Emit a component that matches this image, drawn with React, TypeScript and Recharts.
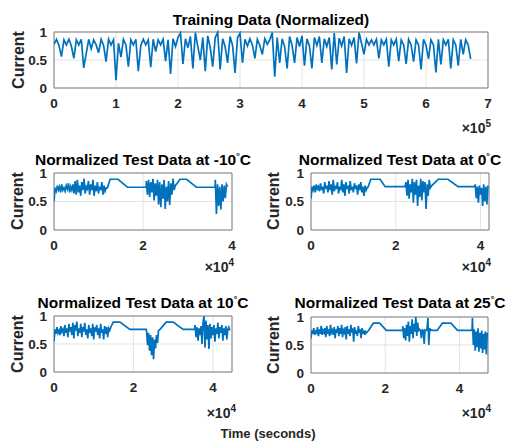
import React from 'react';
import { LineChart, Line, XAxis, YAxis, CartesianGrid, ReferenceArea } from 'recharts';

// ---------- Training data (normalized), sampled every 4000 s ----------
const trainStep = 4000;
const trainCurrent = [
  0.78, 0.87, 0.76, 0.56, 0.86, 0.77, 0.87, 0.75, 0.53, 0.86,
  0.77, 0.87, 0.36, 0.62, 0.87, 0.70, 0.86, 0.77, 0.63, 0.87,
  0.76, 0.47, 0.87, 0.77, 0.86, 0.14, 0.80, 0.55, 0.87, 0.77,
  0.38, 0.86, 0.77, 0.87, 0.30, 0.76, 0.87, 0.77, 0.86, 0.37,
  0.87, 0.65, 0.86, 0.77, 0.87, 0.48, 0.86, 0.25, 0.88, 0.74,
  0.90, 0.98, 0.43, 0.88, 0.72, 0.92, 0.35, 0.99, 0.74, 0.50,
  0.90, 0.30, 0.93, 0.72, 0.38, 0.90, 0.99, 0.33, 0.88, 0.74,
  0.45, 0.92, 0.76, 0.27, 0.90, 0.98, 0.45, 0.87, 0.75, 0.88,
  0.77, 0.53, 0.87, 0.76, 0.60, 0.88, 0.78, 0.86, 0.99, 0.20,
  0.90, 0.45, 0.88, 0.74, 0.35, 0.92, 0.76, 0.45, 0.90, 0.74,
  0.93, 0.40, 0.88, 0.75, 0.35, 0.90, 0.76, 0.92, 0.45, 0.88,
  0.74, 0.90, 0.33, 0.98, 0.42, 0.89, 0.75, 0.92, 0.27, 0.88,
  0.76, 0.90, 0.44, 0.99, 0.80, 0.60, 0.87, 0.77, 0.86, 0.77,
  0.87, 0.53, 0.86, 0.77, 0.87, 0.38, 0.86, 0.77, 0.87, 0.48,
  0.86, 0.77, 0.43, 0.87, 0.77, 0.47, 0.86, 0.77, 0.33, 0.87,
  0.76, 0.52, 0.86, 0.77, 0.28, 0.87, 0.42, 0.86, 0.77, 0.87,
  0.35, 0.86, 0.77, 0.40, 0.87, 0.60, 0.86, 0.77, 0.52,
];

// ---------- Test data: noisy segments sampled every 250 s, smooth parts as [time, value] knots ----------
const testStep = 250;

// -10 C
const m10Noise1 = [
  0.50, 0.74, 0.68, 0.78, 0.70, 0.76, 0.66, 0.80, 0.70, 0.74,
  0.68, 0.78, 0.72, 0.82, 0.66, 0.76, 0.70, 0.80, 0.64, 0.86,
  0.62, 0.88, 0.66, 0.78, 0.60, 0.84, 0.70, 0.90, 0.64, 0.76,
  0.72, 0.86, 0.62, 0.80, 0.70, 0.88, 0.60, 0.78, 0.68, 0.84,
  0.64, 0.76, 0.70, 0.84, 0.62, 0.78, 0.68, 0.74,
];
const m10Knots1 = [[12000, 0.74], [12600, 0.89], [14400, 0.89], [16500, 0.75], [20700, 0.75]];
const m10Noise2 = [
  0.86, 0.62, 0.88, 0.58, 0.84, 0.66, 0.90, 0.52, 0.82, 0.60,
  0.88, 0.45, 0.84, 0.40, 0.80, 0.55, 0.88, 0.37, 0.76, 0.50,
  0.86, 0.44, 0.82, 0.62, 0.90, 0.70, 0.78,
];
const m10Knots2 = [[27500, 0.80], [28300, 0.89], [29800, 0.89], [32000, 0.75], [36200, 0.75]];
const m10Noise3 = [0.88, 0.28, 0.80, 0.42, 0.76, 0.36, 0.80, 0.50, 0.78, 0.56, 0.80, 0.76];

// 0 C
const z0Noise1 = [
  0.55, 0.76, 0.70, 0.78, 0.66, 0.80, 0.72, 0.76, 0.68, 0.82,
  0.70, 0.76, 0.64, 0.84, 0.72, 0.78, 0.66, 0.86, 0.70, 0.80,
  0.62, 0.88, 0.68, 0.78, 0.72, 0.84, 0.64, 0.76, 0.70, 0.88,
  0.66, 0.80, 0.60, 0.84, 0.72, 0.78, 0.64, 0.86, 0.70, 0.76,
  0.66, 0.82, 0.72, 0.78, 0.62, 0.80, 0.70, 0.84, 0.66, 0.76,
  0.60, 0.78, 0.70, 0.74,
];
const z0Knots1 = [[13500, 0.76], [14100, 0.89], [16300, 0.89], [17500, 0.76], [22200, 0.76]];
const z0Noise2 = [
  0.84, 0.60, 0.88, 0.55, 0.80, 0.66, 0.90, 0.48, 0.84, 0.62,
  0.88, 0.42, 0.78, 0.58, 0.90, 0.52, 0.86, 0.66, 0.84, 0.37,
  0.80, 0.60, 0.88, 0.74,
];
const z0Knots2 = [[28500, 0.78], [30000, 0.89], [32300, 0.89], [34700, 0.76], [38600, 0.76]];
const z0Noise3 = [0.80, 0.56, 0.76, 0.48, 0.78, 0.62, 0.74, 0.42, 0.80, 0.50, 0.76, 0.45, 0.78];

// 10 C
const p10Noise1 = [
  0.55, 0.76, 0.68, 0.80, 0.70, 0.74, 0.66, 0.82, 0.72, 0.76,
  0.64, 0.84, 0.70, 0.78, 0.62, 0.86, 0.72, 0.80, 0.66, 0.88,
  0.60, 0.84, 0.74, 0.90, 0.64, 0.78, 0.70, 0.86, 0.62, 0.80,
  0.72, 0.88, 0.66, 0.76, 0.60, 0.84, 0.70, 0.78, 0.64, 0.86,
  0.58, 0.80, 0.72, 0.84, 0.66, 0.78, 0.60, 0.86, 0.70, 0.76,
  0.58, 0.82, 0.68, 0.80, 0.62, 0.78, 0.74,
];
const p10Knots1 = [[14300, 0.80], [14900, 0.89], [16600, 0.89], [19100, 0.76], [23200, 0.76]];
const p10Noise2 = [0.72, 0.48, 0.70, 0.38, 0.66, 0.30, 0.62, 0.23, 0.58, 0.42, 0.66, 0.52, 0.74];
const p10Knots2 = [[26800, 0.77], [28200, 0.89], [30000, 0.89], [32500, 0.76], [35400, 0.76]];
const p10Noise3 = [
  0.84, 0.62, 0.80, 0.56, 0.78, 0.66, 0.82, 0.50, 0.88, 1.00,
  0.44, 0.92, 0.58, 0.84, 0.41, 0.86, 0.60, 0.80, 0.66, 0.84,
  0.54, 0.78, 0.68, 0.88, 0.60, 0.80, 0.70, 0.84, 0.56, 0.78,
  0.66, 0.82, 0.58, 0.76, 0.80, 0.74,
];

// 25 C
const p25Noise1 = [
  0.62, 0.76, 0.70, 0.80, 0.68, 0.74, 0.72, 0.82, 0.66, 0.78,
  0.70, 0.84, 0.68, 0.76, 0.72, 0.80, 0.64, 0.84, 0.70, 0.78,
  0.66, 0.86, 0.72, 0.76, 0.68, 0.82, 0.62, 0.78, 0.72, 0.84,
  0.66, 0.80, 0.70, 0.86, 0.64, 0.76, 0.72, 0.82, 0.60, 0.84,
  0.70, 0.78, 0.66, 0.86, 0.72, 0.80, 0.56, 0.82, 0.70, 0.76,
  0.66, 0.84, 0.72, 0.78, 0.62, 0.80, 0.70, 0.76, 0.68, 0.74,
  0.72, 0.74,
];
const p25Knots1 = [[15500, 0.76], [16800, 0.89], [18500, 0.89], [20300, 0.76], [24700, 0.76]];
const p25Noise2 = [
  0.84, 0.62, 0.80, 0.58, 0.86, 0.66, 0.92, 0.56, 0.84, 0.70,
  0.96, 0.62, 0.88, 0.74, 1.00, 0.66, 0.90, 0.76, 0.78, 0.76,
  0.62, 0.77, 0.76, 0.52, 0.77, 0.76, 0.77, 0.98, 0.50, 0.80,
  0.76, 0.77,
];
const p25Knots2 = [[32750, 0.76], [34000, 0.76], [35400, 0.89], [37700, 0.89], [39500, 0.76], [43400, 0.76]];
const p25Noise3 = [0.98, 0.50, 0.78, 0.40, 0.74, 0.46, 0.80, 0.38, 0.72, 0.44, 0.76, 0.36, 0.70, 0.42, 0.74, 0.33, 0.72];

// ---------- helpers to assemble rows ----------
type Pt = { t: number; v: number };
const fromNoise = (start: number, vals: number[]): Pt[] => vals.map((v, i) => ({ t: start + i * testStep, v }));
const fromKnots = (k: number[][]): Pt[] => k.map(([t, v]) => ({ t, v }));

const trainData: Pt[] = trainCurrent.map((v, i) => ({ t: i * trainStep, v }));
const m10Data: Pt[] = [
  ...fromNoise(0, m10Noise1), ...fromKnots(m10Knots1), ...fromNoise(20750, m10Noise2),
  ...fromKnots(m10Knots2), ...fromNoise(36250, m10Noise3),
];
const z0Data: Pt[] = [
  ...fromNoise(0, z0Noise1), ...fromKnots(z0Knots1), ...fromNoise(22400, z0Noise2),
  ...fromKnots(z0Knots2), ...fromNoise(38750, z0Noise3),
];
const p10Data: Pt[] = [
  ...fromNoise(0, p10Noise1), ...fromKnots(p10Knots1), ...fromNoise(23300, p10Noise2),
  ...fromKnots(p10Knots2), ...fromNoise(35500, p10Noise3),
];
const p25Data: Pt[] = [
  ...fromNoise(0, p25Noise1), ...fromKnots(p25Knots1), ...fromNoise(24750, p25Noise2),
  ...fromKnots(p25Knots2), ...fromNoise(43500, p25Noise3),
];

const trainTicks = [0, 100000, 200000, 300000, 400000, 500000, 600000, 700000];
const testTicks = [0, 20000, 40000];
const yTicks = [0, 0.5, 1];

const W = 510;
const H = 442;
const AX_W = 40;
const AX_H = 30;
const FONT = '"Liberation Sans", Arial, Helvetica, sans-serif';
const BLUE = '#0072BD';
const TXT = '#262626';

type PanelProps = {
  data: Pt[];
  left: number; right: number; top: number; bottom: number;
  xMax: number; xTicks: number[]; scale: number;
};

function Panel({ data, left, right, top, bottom, xMax, xTicks, scale }: PanelProps) {
  const tickStyle = { fontSize: 13.5, fontWeight: 700, fill: TXT, fontFamily: FONT };
  return (
    <div style={{ position: 'absolute', left: 0, top: 0, width: W, height: H, pointerEvents: 'none' }}>
      <LineChart
        width={W}
        height={H}
        data={data}
        margin={{ left: left - AX_W, top, right: W - right, bottom: H - bottom - AX_H }}
      >
        <CartesianGrid stroke="#e3e3e3" strokeWidth={1} />
        <XAxis
          dataKey="t"
          type="number"
          domain={[0, xMax]}
          ticks={xTicks}
          allowDataOverflow
          height={AX_H}
          axisLine={false}
          tickLine={false}
          tickSize={6}
          tickMargin={4}
          interval={0}
          tick={tickStyle}
          tickFormatter={(v: number) => String(Math.round((v / scale) * 10) / 10)}
        />
        <YAxis
          type="number"
          domain={[0, 1]}
          ticks={yTicks}
          width={AX_W}
          axisLine={false}
          tickLine={false}
          tickSize={6}
          tickMargin={1}
          interval={0}
          tick={tickStyle}
          tickFormatter={(v: number) => String(v)}
        />
        <ReferenceArea x1={0} x2={xMax} y1={0} y2={1} fill="none" fillOpacity={0} stroke="#808080" strokeWidth={1} ifOverflow="visible" />
        <Line
          type="linear"
          dataKey="v"
          stroke={BLUE}
          strokeWidth={1.7}
          dot={false}
          activeDot={false}
          isAnimationActive={false}
        />
      </LineChart>
    </div>
  );
}

const titleStyle = { fontFamily: FONT, fontWeight: 700, fontSize: 15.5, fill: '#000' } as const;
const labelStyle = { fontFamily: FONT, fontWeight: 700, fontSize: 16, fill: TXT } as const;
const expStyle = { fontFamily: FONT, fontWeight: 700, fontSize: 14, fill: TXT } as const;

function TestTitle({ x, y, temp }: { x: number; y: number; temp: string }) {
  return (
    <text x={x} y={y} textAnchor="middle" style={titleStyle}>
      {`Normalized Test Data at ${temp}`}
      <tspan dy={-6} fontSize={9}>{'°'}</tspan>
      <tspan dy={6}>C</tspan>
    </text>
  );
}

function Exponent({ x, y, p }: { x: number; y: number; p: string }) {
  return (
    <text x={x} y={y} textAnchor="end" style={expStyle}>
      {'×10'}
      <tspan dy={-6} fontSize={10}>{p}</tspan>
    </text>
  );
}

function YLabel({ x, y }: { x: number; y: number }) {
  return (
    <text x={x} y={y} textAnchor="middle" dy="0.35em" transform={`rotate(-90, ${x}, ${y})`} style={labelStyle}>
      Current
    </text>
  );
}

export default function App() {
  return (
    <div style={{ position: 'absolute', left: 0, top: 0, width: W, height: H, background: '#fff', overflow: 'hidden' }}>
      <Panel data={trainData} left={54} right={488} top={32} bottom={88} xMax={700000} xTicks={trainTicks} scale={100000} />
      <Panel data={m10Data} left={54} right={232} top={173} bottom={230} xMax={40000} xTicks={testTicks} scale={10000} />
      <Panel data={z0Data} left={311} right={489} top={173} bottom={230} xMax={42000} xTicks={testTicks} scale={10000} />
      <Panel data={p10Data} left={54} right={232} top={316} bottom={372} xMax={44800} xTicks={testTicks} scale={10000} />
      <Panel data={p25Data} left={311} right={488} top={317} bottom={373} xMax={47700} xTicks={testTicks} scale={10000} />
      <svg width={W} height={H} style={{ position: 'absolute', left: 0, top: 0, pointerEvents: 'none' }}>
        <text x={271} y={25} textAnchor="middle" style={titleStyle}>Training Data (Normalized)</text>
        <TestTitle x={143} y={165} temp="-10" />
        <TestTitle x={400} y={165} temp="0" />
        <TestTitle x={143} y={308} temp="10" />
        <TestTitle x={400} y={308} temp="25" />

        <YLabel x={18} y={60} />
        <YLabel x={17} y={201} />
        <YLabel x={273} y={201} />
        <YLabel x={17} y={344} />
        <YLabel x={273} y={345} />

        <Exponent x={491} y={133} p="5" />
        <Exponent x={234} y={272} p="4" />
        <Exponent x={491} y={272} p="4" />
        <Exponent x={236} y={418} p="4" />
        <Exponent x={491} y={418} p="4" />

        <text x={268} y={438} textAnchor="middle" style={{ fontFamily: FONT, fontWeight: 700, fontSize: 13, fill: TXT }}>
          Time (seconds)
        </text>
      </svg>
    </div>
  );
}
